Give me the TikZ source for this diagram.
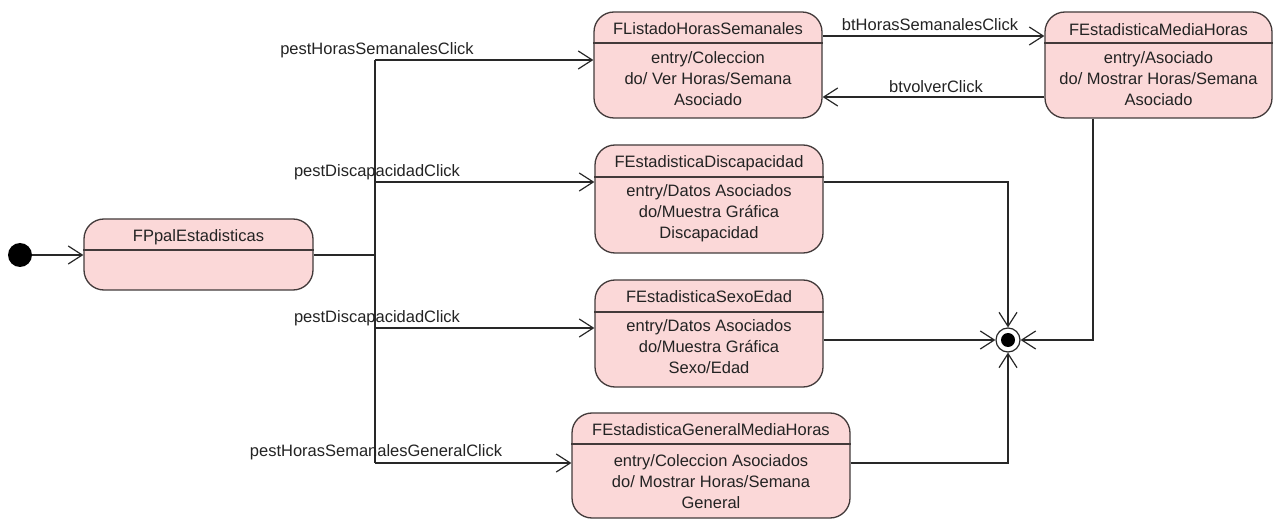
\documentclass[tikz,border=0pt]{standalone}
\usepackage{fontspec}
\setmainfont{Liberation Sans}
\usetikzlibrary{arrows.meta}
\definecolor{statefill}{RGB}{251,216,216}
\definecolor{stateline}{RGB}{66,58,58}
\definecolor{wirecol}{RGB}{40,40,40}
\definecolor{textcol}{RGB}{35,35,35}
\begin{document}
\begin{tikzpicture}[x=1pt,y=-1pt,
  state/.style={draw=stateline, fill=statefill, rounded corners=20pt, line width=1.3pt, inner sep=0pt},
  txt/.style={font=\fontsize{16.5}{21}\selectfont, text=textcol, inner sep=0pt, align=center},
  sep/.style={draw=stateline, line width=1.2pt},
  wire/.style={draw=wirecol, line width=1.2pt},
  tr/.style={wire, -{Straight Barb[length=14pt,width=18pt]}},
]
\useasboundingbox (0,0) rectangle (1277,521);

% pseudo states
\node[circle, fill=black, minimum size=24pt, inner sep=0pt] (init) at (20,255) {};
\node[circle, draw=wirecol, fill=white, line width=1.2pt, minimum size=24pt, inner sep=0pt] (fin) at (1008,340) {};
\fill[black] (fin.center) circle (7pt);

% states
\node[state, minimum width=229pt, minimum height=71pt] (ppal) at (198.5,254.5) {};
\node[txt] (ppalT) at (198.5,237) {FPpalEstadisticas};
\draw[sep] (ppal.west |- 0,250) -- (ppal.east |- 0,250);

\node[state, minimum width=228pt, minimum height=106pt] (listado) at (708,65) {};
\node[txt] (listadoT) at (708,29) {FListadoHorasSemanales};
\draw[sep] (listado.west |- 0,43) -- (listado.east |- 0,43);
\node[txt] (listadoB) at (708,79) {entry/Coleccion\\do/ Ver Horas/Semana\\Asociado};

\node[state, minimum width=227pt, minimum height=106pt] (media) at (1158.5,65) {};
\node[txt] (mediaT) at (1158.5,30) {FEstadisticaMediaHoras};
\draw[sep] (media.west |- 0,43) -- (media.east |- 0,43);
\node[txt] (mediaB) at (1158.5,79) {entry/Asociado\\do/ Mostrar Horas/Semana\\Asociado};

\node[state, minimum width=228pt, minimum height=108pt] (discap) at (709,199) {};
\node[txt] (discapT) at (709,163) {FEstadisticaDiscapacidad};
\draw[sep] (discap.west |- 0,177) -- (discap.east |- 0,177);
\node[txt] (discapB) at (709,213) {entry/Datos Asociados\\do/Muestra Gráfica\\Discapacidad};

\node[state, minimum width=228pt, minimum height=107pt] (sexo) at (709,333.5) {};
\node[txt] (sexoT) at (709,297) {FEstadisticaSexoEdad};
\draw[sep] (sexo.west |- 0,312) -- (sexo.east |- 0,312);
\node[txt] (sexoB) at (709,347) {entry/Datos Asociados\\do/Muestra Gráfica\\Sexo/Edad};

\node[state, minimum width=278pt, minimum height=105pt] (general) at (711,465.5) {};
\node[txt] (generalT) at (711,430) {FEstadisticaGeneralMediaHoras};
\draw[sep] (general.west |- 0,444) -- (general.east |- 0,444);
\node[txt] (generalB) at (711,482) {entry/Coleccion Asociados\\do/ Mostrar Horas/Semana\\General};

% routing points
\coordinate (busMid) at (375,255);
\coordinate (busA) at (375,60);
\coordinate (busB) at (375,182);
\coordinate (busC) at (375,328);
\coordinate (busD) at (375,463);
\coordinate (yGo) at (0,36);
\coordinate (yBack) at (0,97);
\coordinate (cornerD) at (1008,182);
\coordinate (cornerG) at (1008,463);
\coordinate (cornerM) at (1093,340);

% transitions
\draw[tr] (init) -- (ppal.west |- init);
\draw[wire] (ppal.east |- busMid) -- (busMid);
\draw[wire] (busA) -- (busD);
\draw[tr] (busA) -- (listado.west |- busA);
\draw[tr] (busB) -- (discap.west |- busB);
\draw[tr] (busC) -- (sexo.west |- busC);
\draw[tr] (busD) -- (general.west |- busD);
\draw[tr] (listado.east |- yGo) -- (media.west |- yGo);
\draw[tr] (media.west |- yBack) -- (listado.east |- yBack);
\draw[tr] (discap.east |- cornerD) -- (cornerD) -- (fin.north);
\draw[tr] (sexo.east |- fin) -- (fin.west);
\draw[tr] (general.east |- cornerG) -- (cornerG) -- (fin.south);
\draw[tr] (media.south -| cornerM) -- (cornerM) -- (fin.east);

% transition labels
\node[txt] (lblA) at (377,50) {pestHorasSemanalesClick};
\node[txt] (lblB) at (377,172) {pestDiscapacidadClick};
\node[txt] (lblC) at (377,318) {pestDiscapacidadClick};
\node[txt] (lblD) at (376,452) {pestHorasSemanalesGeneralClick};
\node[txt] (lblE) at (930,25) {btHorasSemanalesClick};
\node[txt] (lblF) at (936,87) {btvolverClick};
\end{tikzpicture}
\end{document}
